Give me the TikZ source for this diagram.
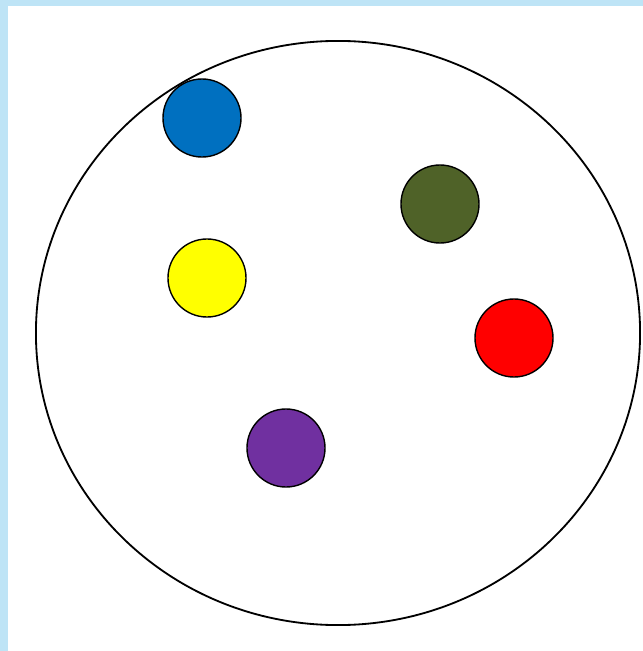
\documentclass[tikz,border=0pt]{standalone}
\usepackage{tikz}
\usetikzlibrary{shapes.geometric}

\definecolor{dotblue}{RGB}{0,112,192}
\definecolor{dotgreen}{RGB}{79,98,40}
\definecolor{dotyellow}{RGB}{255,255,0}
\definecolor{dotred}{RGB}{255,0,0}
\definecolor{dotpurple}{RGB}{112,48,160}
\definecolor{frameblue}{RGB}{190,228,246}

\begin{document}
\begin{tikzpicture}[
    x=0.025cm, y=-0.025cm,
    dish/.style={ellipse, draw, line width=1.3pt, inner sep=0pt, minimum width=15.1cm, minimum height=14.6cm},
    dot/.style={circle, draw, line width=1pt, inner sep=0pt, minimum size=1.95cm}
]

% Frame and white panel
\fill[frameblue] (0,0) rectangle (643,651);
\fill[white] (8,6) rectangle (643,651);
\useasboundingbox (0,0) rectangle (643,651);

% Dish
\node[dish] (dish) at (338,333) {};

% Dots
\node[dot, fill=dotblue] (blue) at (202,118) {};
\node[dot, fill=dotgreen] (green) at (440,204) {};
\node[dot, fill=dotyellow] (yellow) at (207,278) {};
\node[dot, fill=dotred] (red) at (514,338) {};
\node[dot, fill=dotpurple] (purple) at (286,448) {};

\end{tikzpicture}
\end{document}
